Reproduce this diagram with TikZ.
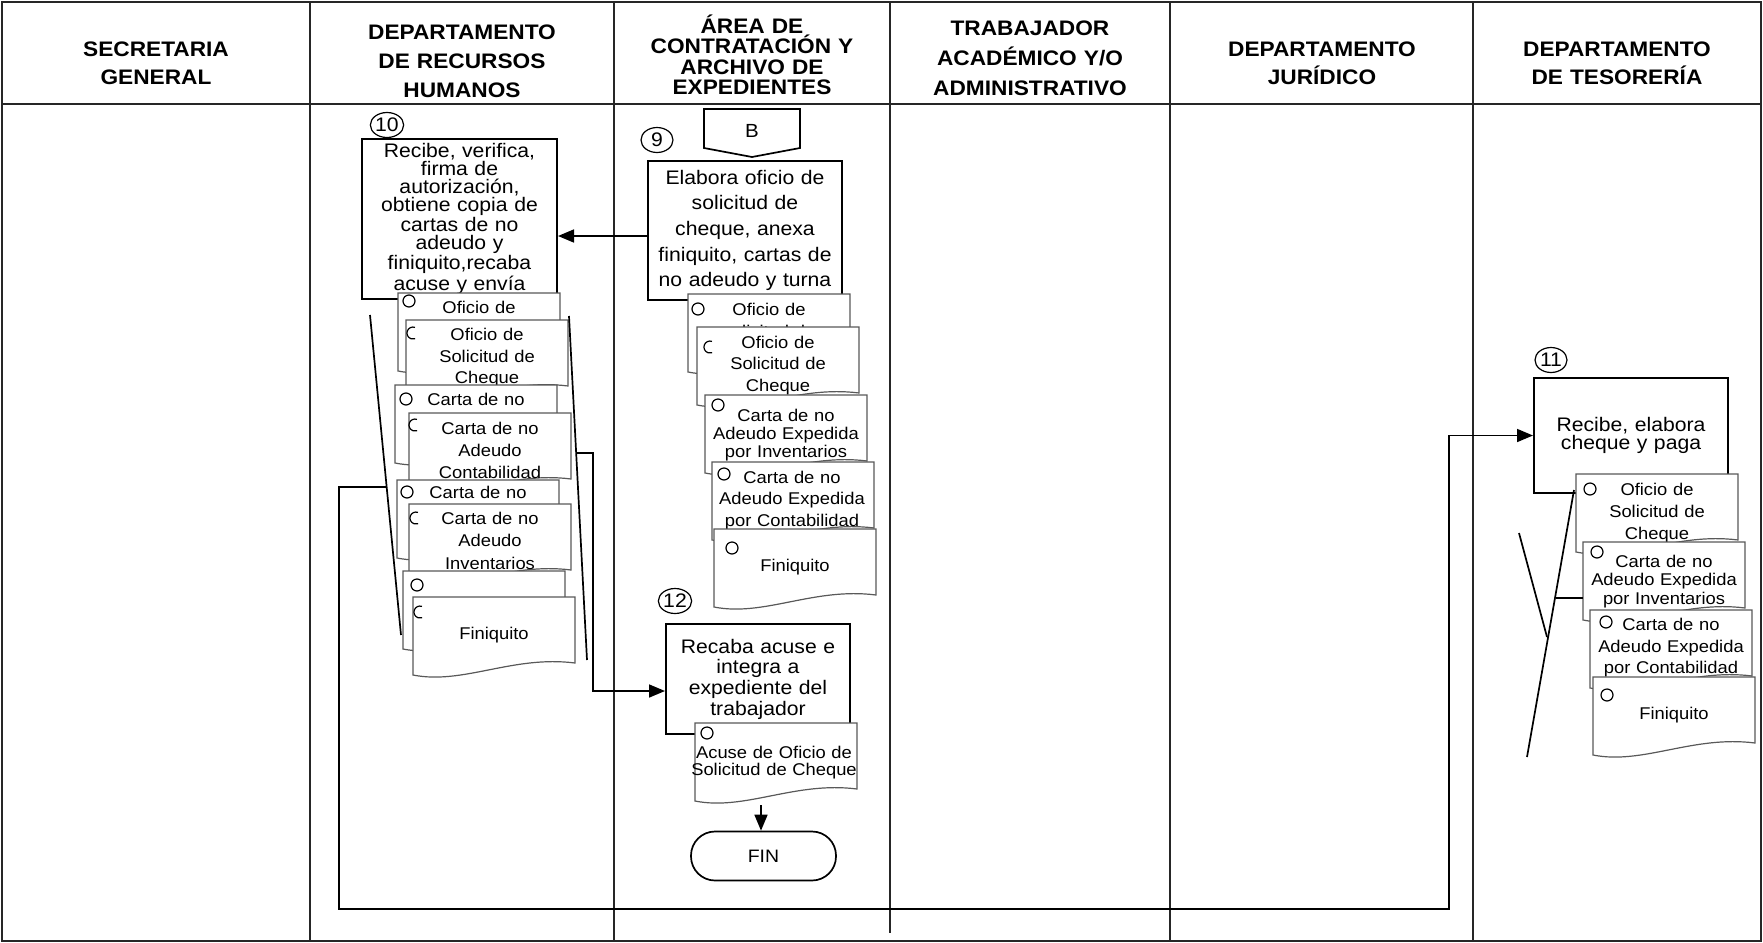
\documentclass[tikz,border=0pt]{standalone}
\usepackage{fontspec}
\setmainfont{Liberation Sans}[FakeStretch=1.08]
\usetikzlibrary{arrows.meta,shapes.geometric}

\lineskiplimit=-20pt

% document sheet with wavy bottom; #1 name of its top-left corner
\newcommand{\docsheet}[3]{%
  \coordinate (#1) at (#2,#3);
  \begin{scope}[shift={(#2,#3)}]
    \path[docedge] (0,0) -- (162,0) -- (162,66) .. controls (100,58) and (50,88) .. (0,78) -- cycle;
  \end{scope}}
% original (ring) and copy (open arc) marks
\newcommand{\docring}[2]{\draw[ringmark] (#1,#2) circle[radius=3pt];}
\newcommand{\docclip}[2]{\draw[ringmark] ([shift={(2,-5.6)}]#1,#2) arc[start angle=70,end angle=290,radius=3pt];}

\tikzset{
  lanerule/.style={line width=0.9pt, draw=black!85},
  hdr/.style={font=\fontsize{10.5}{#1}\selectfont\bfseries, align=center, inner sep=0pt, text width=140pt},
  proc/.style={draw, line width=1pt, fill=white, align=center, inner sep=0pt},
  docedge/.style={draw=black!65, line width=0.6pt, fill=white},
  doctext/.style={font=\fontsize{8.5}{#1}\selectfont, align=center, inner sep=0pt, anchor=north, text width=95pt},
  ringmark/.style={draw=black, line width=0.6pt},
  stepno/.style={draw, ellipse, line width=0.6pt, minimum width=16pt, minimum height=12.5pt, inner sep=0pt, font=\fontsize{9.8}{10}\selectfont},
  flow/.style={line width=0.85pt},
  flowarrow/.style={line width=0.85pt, -{Triangle[length=8pt,width=6.5pt]}},
  bracket/.style={line width=0.85pt},
  term/.style={draw, line width=0.85pt, rounded corners=12pt, minimum width=72.5pt, minimum height=24.5pt, inner sep=0pt, font=\fontsize{9}{10}\selectfont},
}

\begin{document}
\begin{tikzpicture}[x=0.5pt,y=-0.5pt]
\useasboundingbox (0,0) rectangle (1763,943);

% ---- swimlane table ----
\draw[lanerule] (2,2) rectangle (1761,941);
\draw[lanerule] (2,104) -- (1761,104);
\draw[lanerule] (310,2) -- (310,941);
\draw[lanerule] (614,2) -- (614,941);
\draw[lanerule] (890,2) -- (890,933);
\draw[lanerule] (1170,2) -- (1170,941);
\draw[lanerule] (1473,2) -- (1473,941);

\node[hdr=13.75] (hSec) at (156,63.5) {SECRETARIA\\GENERAL};
\node[hdr=14.5] (hRH) at (462,61) {DEPARTAMENTO\\DE RECURSOS\\HUMANOS};
\node[hdr=10.25] (hArea) at (752,55) {ÁREA DE\\CONTRATACIÓN Y\\ARCHIVO DE\\EXPEDIENTES};
\node[hdr=15] (hTrab) at (1030,58) {TRABAJADOR\\ACADÉMICO Y/O\\ADMINISTRATIVO};
\node[hdr=14] (hJur) at (1322,63) {DEPARTAMENTO\\JURÍDICO};
\node[hdr=14] (hTes) at (1617,63) {DEPARTAMENTO\\DE TESORERÍA};

% ---- off-page connector ----
\draw[flow] (704,109) -- (800,109) -- (800,148) -- (752,157) -- (704,148) -- cycle;
\node[font=\fontsize{9.5}{10}\selectfont, inner sep=0pt] (offB) at (752,131) {B};

% ---- process steps ----
\node[proc, minimum width=97pt, minimum height=69.5pt, text width=95pt, font=\fontsize{9.8}{12.85}\selectfont] (box9) at (745,230.5)
  {Elabora oficio de\\solicitud de\\cheque, anexa\\finiquito, cartas de\\no adeudo y turna};
\node[stepno] (n9) at (657,140) {\raisebox{-2pt}{9}};

\node[proc, minimum width=97.5pt, minimum height=80pt, text width=95pt, font=\fontsize{9.8}{8.9}\selectfont] (box10) at (459.5,219)
  {Recibe, verifica,\\firma de\\autorización,\\obtiene copia de\\cartas de no\\adeudo y\\finiquito,recaba\\acuse y envía};
\node[stepno] (n10) at (387,125) {\raisebox{-2pt}{10}};

\node[proc, minimum width=97pt, minimum height=57.5pt, text width=95pt, font=\fontsize{9.8}{9.15}\selectfont] (box11) at (1631,435.5)
  {Recibe, elabora\\cheque y paga};
\node[stepno] (n11) at (1551,360) {11};

\node[proc, minimum width=92pt, minimum height=55pt, text width=90pt, font=\fontsize{9.8}{10.35}\selectfont] (box12) at (758,679)
  {Recaba acuse e\\integra a\\expediente del\\trabajador};
\node[stepno] (n12) at (675,601) {\raisebox{-2pt}{12}};

\node[term] (fin) at (763.5,856) {FIN};

% ---- connectors ----
\coordinate (arrY) at (600,236);
\draw[flowarrow] (box9.west |- arrY) -- (box10.east |- arrY);

\coordinate (lbTop) at (370,315);
\coordinate (lbBot) at (401,635);
\coordinate (rbTop) at (569,316);
\coordinate (rbBot) at (587,660);
\coordinate (lbJoin) at (386.7,487);
\coordinate (lbCorner) at (339,487);
\coordinate (lbDown) at (339,909);
\coordinate (tesUp) at (1449,909);
\draw[flowarrow] (lbJoin) -- (lbCorner) -- (lbDown) -- (tesUp) -- (tesUp |- box11.west) -- (box11.west);

\coordinate (rbJoin) at (576,453);
\coordinate (rbCorner) at (593,453);
\coordinate (rbDown) at (593,691);
\draw[flowarrow] (rbJoin) -- (rbCorner) -- (rbDown) -- (box12.west |- rbDown);

% ---- documents: Recursos Humanos ----
\docsheet{rA1}{398}{293}
\docring{409}{301}
\node[doctext=10.85] (rA1t) at (479,300.4) {Oficio de};
\docsheet{rB1}{406}{320}
\docclip{413}{333}
\node[doctext=10.85] (rB1t) at (487,327.7) {Oficio de\\Solicitud de\\Cheque};
\docsheet{rA2}{395}{385}
\docring{406}{399}
\node[doctext=10.85] (rA2t) at (476,392.7) {Carta de no};
\docsheet{rB2}{409}{413}
\docclip{415}{425}
\node[doctext=11] (rB2t) at (490,421.7) {Carta de no\\Adeudo\\Contabilidad};
\docsheet{rA3}{397}{480}
\docring{407}{492}
\node[doctext=10.85] (rA3t) at (478,485.7) {Carta de no};
\docsheet{rB3}{409}{504}
\docclip{416}{518}
\node[doctext=11.25] (rB3t) at (490,511.7) {Carta de no\\Adeudo\\Inventarios};
\docsheet{rA4}{403}{571}
\docring{417}{585}
\docsheet{rB4}{413}{597}
\docclip{420}{612}
\node[doctext=10.85] (rB4t) at (494,626.7) {Finiquito};

% ---- documents: Contratación y Archivo ----
\docsheet{aA1}{688}{294}
\docring{698}{309}
\node[doctext=10.85] (aA1t) at (769,302.7) {Oficio de\\solicitud de};
\docsheet{aB1}{697}{327}
\docclip{710}{347}
\node[doctext=10.85] (aB1t) at (778,335.4) {Oficio de\\Solicitud de\\Cheque};
\docsheet{aC}{705}{395}
\docring{718}{405}
\node[doctext=9] (aCt) at (786,408.7) {Carta de no\\Adeudo Expedida\\por Inventarios};
\docsheet{aD}{712}{462}
\docring{724}{474}
\node[doctext=10.85] (aDt) at (792,470.4) {Carta de no\\Adeudo Expedida\\por Contabilidad};
\docsheet{aE}{714}{529}
\docring{732}{548}
\node[doctext=10.85] (aEt) at (795,558.7) {Finiquito};

\docsheet{aF}{695}{723}
\docring{707}{733}
\node[doctext=8.8] (aFt) at (774,745.4) {Acuse de Oficio de\\Solicitud de Cheque};
\coordinate (acuseFoot) at (761,805);
\draw[flowarrow] (acuseFoot) -- (acuseFoot |- fin.north);

% ---- documents: Tesorería ----
\docsheet{tD1}{1576}{474}
\docring{1590}{489}
\node[doctext=10.85] (tD1t) at (1657,483) {Oficio de\\Solicitud de\\Cheque};
\docsheet{tD2}{1583}{542}
\docring{1597}{552}
\node[doctext=9.15] (tD2t) at (1664,554.7) {Carta de no\\Adeudo Expedida\\por Inventarios};
\docsheet{tD3}{1590}{610}
\docring{1606}{622}
\node[doctext=10.85] (tD3t) at (1671,617.7) {Carta de no\\Adeudo Expedida\\por Contabilidad};
\docsheet{tD4}{1593}{677}
\docring{1607}{695}
\node[doctext=10.85] (tD4t) at (1674,706.4) {Finiquito};

% ---- document group brackets ----
\draw[bracket] (lbTop) -- (lbBot);
\draw[bracket] (rbTop) -- (rbBot);

\coordinate (tbTop) at (1574,490);
\coordinate (tbBot) at (1527,757);
\coordinate (tsTop) at (1519,533);
\coordinate (tsMeet) at (1547,637);
\coordinate (tbStub) at (1556,598);
\draw[bracket] (tbTop) -- (tbBot);
\draw[bracket] (tsTop) -- (tsMeet);
\draw[flow] (tbStub) -- (tD2 |- tbStub);

\end{tikzpicture}
\end{document}
